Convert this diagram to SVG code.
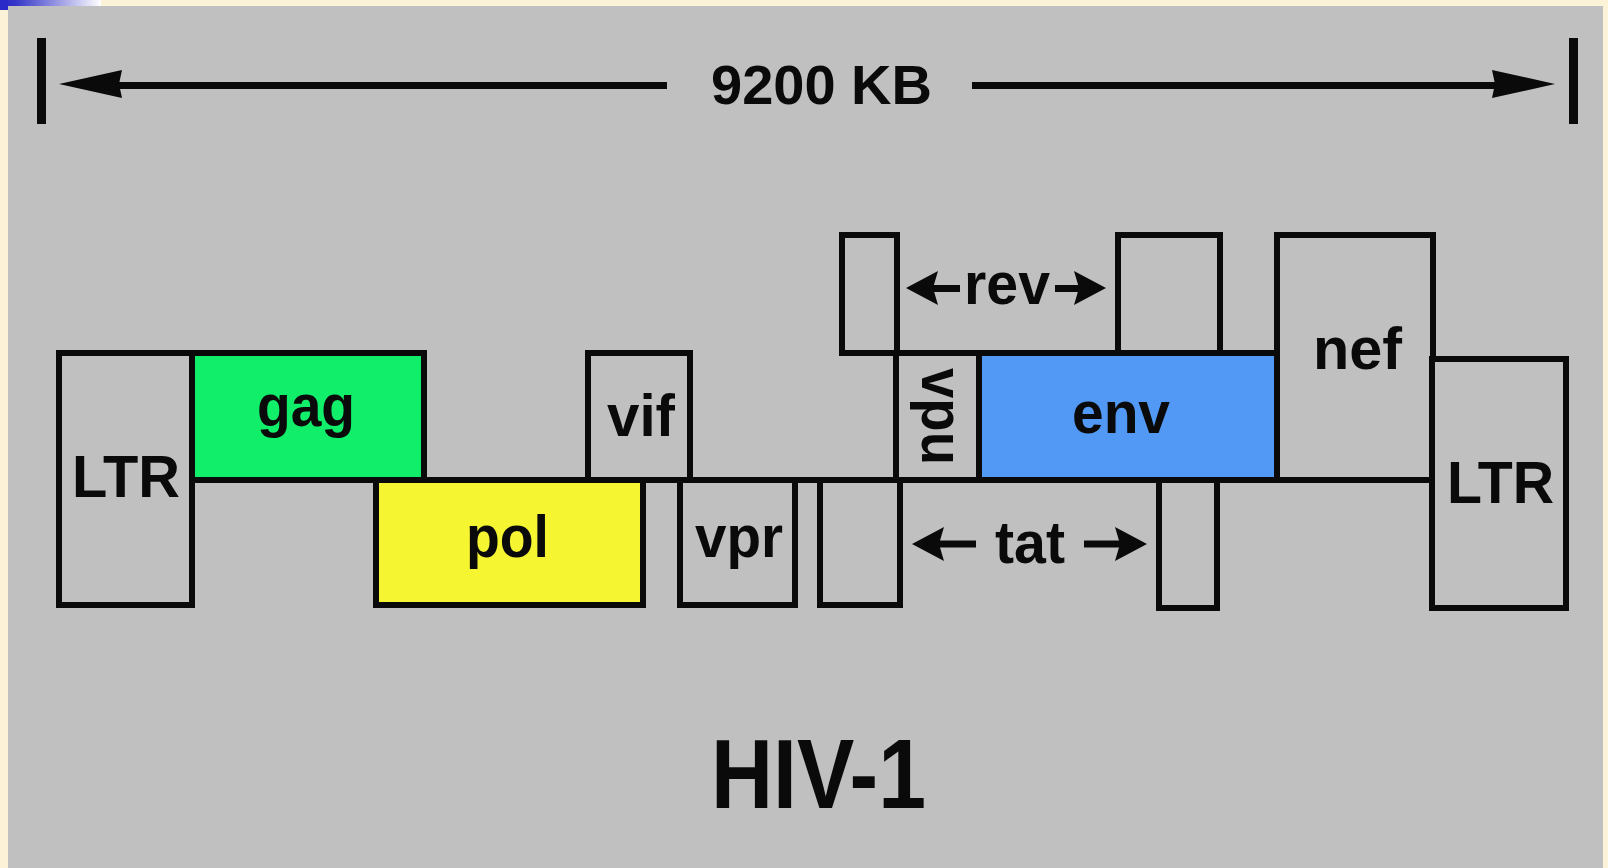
<svg xmlns="http://www.w3.org/2000/svg" width="1608" height="868" viewBox="0 0 1608 868">
<defs>
<linearGradient id="bar" x1="0" y1="0" x2="1" y2="0">
<stop offset="0" stop-color="#2a2ac8"/>
<stop offset="0.15" stop-color="#3434c8"/>
<stop offset="1" stop-color="#ffffff"/>
</linearGradient>
<path id="headL" d="M0,0 L32,-17 L27,0 L32,17 Z"/>
<path id="bigHeadL" d="M0,0 L63,-14 L60,0 L63,14 Z"/>
</defs>
<style>
.box{stroke:#0a0a0a;stroke-width:6;fill:#c0c0c0}
.lbl{font-family:"Liberation Sans",Arial,Helvetica,sans-serif;font-weight:bold;font-size:60px;fill:#0a0a0a;text-anchor:middle}
.ln{stroke:#0a0a0a;fill:none}
.hd{fill:#0a0a0a}
</style>
<rect x="0" y="0" width="1608" height="868" fill="#fcf2d8"/>
<rect x="0" y="0" width="101" height="10" fill="url(#bar)"/>
<rect x="0" y="0" width="8" height="10" fill="#2a2ac8"/>
<rect x="8" y="6" width="1595" height="862" fill="#c0c0c0"/>

<g id="scale">
<rect x="37" y="38" width="9" height="86" fill="#0a0a0a"/>
<rect x="1569" y="38" width="9" height="86" fill="#0a0a0a"/>
<text x="821.5" y="104" class="lbl" style="font-size:56px" textLength="221" lengthAdjust="spacingAndGlyphs">9200 KB</text>
</g>

<g id="LTR5"><rect class="box" x="59" y="353" width="133" height="252"/><text class="lbl" x="126" y="497" textLength="108" lengthAdjust="spacingAndGlyphs">LTR</text></g>
<g id="gag"><rect class="box" style="fill:#10ee6a" x="192" y="353" width="232" height="127"/><text class="lbl" x="306" y="426" textLength="98" lengthAdjust="spacingAndGlyphs">gag</text></g>
<g id="pol"><rect class="box" style="fill:#f5f532" x="376" y="480" width="267" height="125"/><text class="lbl" x="507.5" y="557" textLength="83" lengthAdjust="spacingAndGlyphs">pol</text></g>
<g id="vif"><rect class="box" x="588" y="353" width="102" height="127"/><text class="lbl" x="641" y="436" textLength="68" lengthAdjust="spacingAndGlyphs">vif</text></g>
<g id="vpr"><rect class="box" x="680" y="480" width="115" height="125"/><text class="lbl" x="739" y="557" textLength="88" lengthAdjust="spacingAndGlyphs">vpr</text></g>
<g id="tat-exon1"><rect class="box" x="820" y="480" width="80" height="125"/></g>
<g id="rev-exon1"><rect class="box" x="842" y="235" width="55" height="118"/></g>
<g id="vpu"><rect class="box" x="896" y="353" width="83" height="127"/><text class="lbl" transform="translate(922,416.5) rotate(90)" x="0" y="0" textLength="97" lengthAdjust="spacingAndGlyphs">vpu</text></g>
<g id="env"><rect class="box" style="fill:#5298f5" x="979" y="353" width="298" height="127"/><text class="lbl" x="1121" y="433" textLength="98" lengthAdjust="spacingAndGlyphs">env</text></g>
<g id="rev-exon2"><rect class="box" x="1118" y="235" width="102" height="118"/></g>
<g id="tat-exon2"><rect class="box" x="1159" y="480" width="58" height="128"/></g>
<g id="nef"><rect class="box" x="1277" y="235" width="156" height="245"/><text class="lbl" x="1357.5" y="369" textLength="89" lengthAdjust="spacingAndGlyphs">nef</text></g>
<g id="LTR3"><rect class="box" x="1432" y="359" width="134" height="249"/><text class="lbl" x="1500.5" y="503" textLength="107" lengthAdjust="spacingAndGlyphs">LTR</text></g>

<g id="rev"><text class="lbl" x="1007" y="304" textLength="86" lengthAdjust="spacingAndGlyphs">rev</text></g>
<g id="tat"><text class="lbl" x="1030" y="563" textLength="70" lengthAdjust="spacingAndGlyphs">tat</text></g>

<g id="connectors">
<line class="ln" x1="192" y1="480" x2="1432" y2="480" stroke-width="6"/>
<line class="ln" x1="110" y1="85.5" x2="667" y2="85.5" stroke-width="7"/>
<line class="ln" x1="972" y1="85.5" x2="1510" y2="85.5" stroke-width="7"/>
<use href="#bigHeadL" class="hd" transform="translate(59,84)"/>
<use href="#bigHeadL" class="hd" transform="translate(1555,84) scale(-1,1)"/>
<line class="ln" x1="930" y1="288.5" x2="960" y2="288.5" stroke-width="7"/>
<use href="#headL" class="hd" transform="translate(906,288)"/>
<line class="ln" x1="1055" y1="288.5" x2="1085" y2="288.5" stroke-width="7"/>
<use href="#headL" class="hd" transform="translate(1106,288) scale(-1,1)"/>
<line class="ln" x1="930" y1="544" x2="976" y2="544" stroke-width="7"/>
<use href="#headL" class="hd" transform="translate(912,544)"/>
<line class="ln" x1="1084" y1="544" x2="1125" y2="544" stroke-width="7"/>
<use href="#headL" class="hd" transform="translate(1147,544) scale(-1,1)"/>
</g>

<g id="title"><text class="lbl" x="818.5" y="808" style="font-size:98px" textLength="215" lengthAdjust="spacingAndGlyphs">HIV-1</text></g>
</svg>
